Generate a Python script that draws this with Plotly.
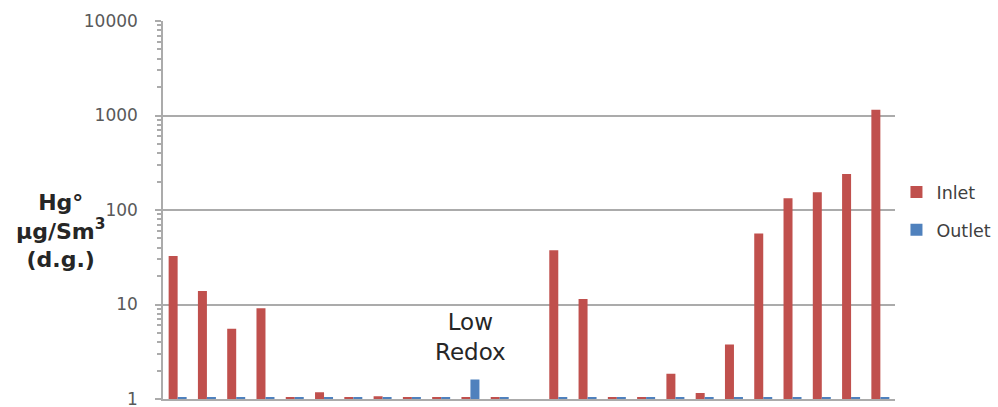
import plotly.graph_objects as go

# Test runs in sequence; run 13 has no measurement
runs = list(range(1, 26))
inlet = [32.7, 13.9, 5.55, 9.1, 1.05, 1.18, 1.05, 1.07, 1.05, 1.05, 1.05, 1.05, None,
         37.6, 11.4, 1.05, 1.05, 1.85, 1.16, 3.78, 56.5, 133, 154, 240, 1150]
outlet = [1.05, 1.05, 1.05, 1.05, 1.05, 1.05, 1.05, 1.05, 1.05, 1.05, 1.61, 1.05, None,
          1.05, 1.05, 1.05, 1.05, 1.05, 1.05, 1.05, 1.05, 1.05, 1.05, 1.05, 1.05]
y_ticks = [1, 10, 100, 1000, 10000]
low_redox_run = 11

RED = "#C0504D"
BLUE = "#4F81BD"
GRID = "#ABABAB"
FONT = "DejaVu Sans"

fig = go.Figure()
fig.add_trace(go.Bar(x=runs, y=inlet, name="Inlet", marker=dict(color=RED, line=dict(width=0)),
                     legendgroup="a"))
fig.add_trace(go.Bar(x=runs, y=outlet, name="Outlet", marker=dict(color=BLUE, line=dict(width=0)),
                     legendgroup="b"))

fig.update_layout(
    width=998, height=407,
    margin=dict(l=163, r=103, t=21, b=8, autoexpand=False),
    plot_bgcolor="white", paper_bgcolor="white",
    barmode="group", bargap=0.385, bargroupgap=0.0,
    showlegend=True,
    legend=dict(x=1.002, xanchor="left", y=0.497, yanchor="middle",
                font=dict(family=FONT, size=17.5, color="#404040"),
                tracegroupgap=12, traceorder="grouped", itemwidth=30),
    xaxis=dict(range=[0.5, 25.5], showticklabels=False, ticks="", showgrid=False,
               showline=True, linecolor=GRID, linewidth=2, zeroline=False, automargin=False),
    yaxis=dict(type="log", range=[0, 4], tickvals=y_ticks, ticktext=[str(v) for v in y_ticks],
               tickfont=dict(family=FONT, size=17, color="#595959"),
               ticks="outside", ticklen=6, tickcolor=GRID, tickwidth=1.5,
               ticklabelstandoff=14, ticklabeloverflow="allow", automargin=False,
               showgrid=True, gridcolor=GRID, gridwidth=1.5,
               showline=True, linecolor=GRID, linewidth=1.5, zeroline=False,
               minor=dict(ticks="outside", ticklen=4, tickcolor=GRID, dtick="D1", showgrid=False)),
)

fig.add_annotation(text="<b>Hg°<br>μg/Sm<sup>3</sup><br>(d.g.)</b>", xref="paper", yref="paper",
                   x=-0.1407, y=0.444, xanchor="center", yanchor="middle", showarrow=False,
                   align="center", font=dict(family=FONT, size=22, color="#262626"))
fig.add_annotation(text="Low<br>Redox", xref="x", yref="y", x=low_redox_run, y=0.652,
                   xanchor="center", yanchor="middle", showarrow=False, align="center",
                   font=dict(family=FONT, size=23, color="#262626"))

fig.write_html("out.html")
